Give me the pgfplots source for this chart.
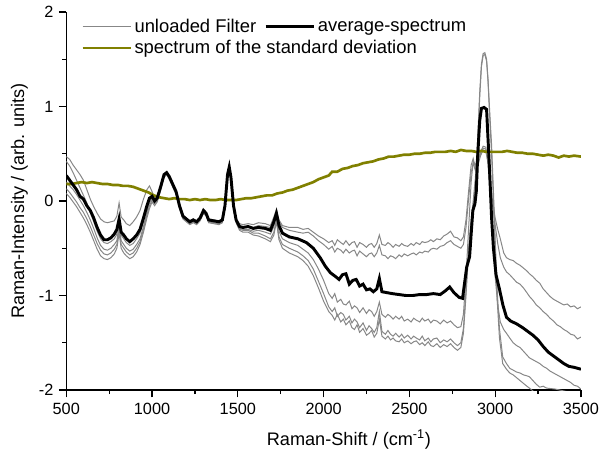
\documentclass[border=0pt]{standalone}
\usepackage{fontspec}
\setmainfont{Liberation Sans}
\usepackage{pgfplots}
\pgfplotsset{compat=1.18}
\definecolor{specgray}{RGB}{135,135,135}
\definecolor{specolive}{RGB}{128,128,0}
\begin{document}
\fontsize{12}{14}\selectfont
\begin{tikzpicture}[font=\fontsize{12}{14}\selectfont]
\begin{axis}[
  scale only axis, width=386pt, height=283.5pt,
  xmin=500, xmax=3500, ymin=-2, ymax=2,
  axis x line*=bottom, axis y line*=left,
  tick align=outside,
  xtick={500,1000,...,3500}, ytick={-2,-1,0,1,2},
  minor x tick num=1, minor y tick num=1,
  major tick length=5.5pt, minor tick length=3pt,
  axis line style={line width=0.9pt},
  every tick/.style={black, line width=0.9pt},
  /pgf/number format/assume math mode=true,
  /pgf/number format/1000 sep={},
  every tick label/.append style={font=\fontsize{12.2}{14}\selectfont},
  every axis label/.append style={font=\fontsize{13.6}{15}\selectfont},
  xlabel={Raman-Shift / (cm\textsuperscript{-1})},
  ylabel={Raman-Intensity / (arb. units)},
  xlabel style={yshift=-3pt, xshift=19pt},
  legend columns=2,
  legend cell align=left,
  legend image code/.code={\draw[#1] (0pt,0pt) -- (36pt,0pt);},
  legend style={at={(rel axis cs:0,1)}, anchor=north west, xshift=8pt, yshift=-1pt,
    draw=none, fill=none, font=\fontsize{13.8}{16}\selectfont,
    row sep=0pt, /tikz/every even column/.append style={column sep=4pt}},
]
% --- unloaded filters (grey) ---
\addplot[specgray, line width=0.75pt, forget plot] table {
500 0.47
520 0.44
540 0.38
560 0.33
580 0.28
600 0.22
620 0.12
640 0.02
660 -0.06
680 -0.13
700 -0.19
720 -0.22
740 -0.23
760 -0.22
780 -0.21
795 -0.16
808 -0.02
820 -0.17
835 -0.20
850 -0.24
870 -0.26
890 -0.22
910 -0.17
930 -0.10
950 0.02
970 0.12
985 0.16
1000 0.10
1015 0.03
1030 0.06
1050 0.16
1070 0.28
1085 0.31
1100 0.27
1120 0.19
1140 0.11
1160 -0.03
1180 -0.15
1200 -0.18
1220 -0.21
1240 -0.19
1260 -0.21
1280 -0.17
1300 -0.09
1315 -0.12
1330 -0.19
1360 -0.20
1390 -0.21
1410 -0.19
1425 -0.04
1440 0.27
1450 0.35
1460 0.24
1475 -0.04
1490 -0.19
1510 -0.24
1530 -0.25
1560 -0.24
1590 -0.25
1620 -0.23
1660 -0.24
1690 -0.26
1710 -0.17
1725 -0.09
1740 -0.20
1760 -0.26
1800 -0.28
1850 -0.28
1880 -0.30
1910 -0.29
1940 -0.33
1970 -0.37
2000 -0.40
2030 -0.44
2050 -0.42
2065 -0.47
2080 -0.41
2100 -0.44
2115 -0.46
2130 -0.42
2150 -0.47
2165 -0.44
2180 -0.43
2195 -0.49
2210 -0.44
2230 -0.46
2250 -0.49
2265 -0.46
2280 -0.45
2295 -0.49
2310 -0.45
2325 -0.36
2340 -0.46
2360 -0.47
2375 -0.44
2390 -0.46
2405 -0.49
2420 -0.46
2440 -0.48
2455 -0.45
2470 -0.47
2490 -0.48
2510 -0.45
2525 -0.47
2540 -0.44
2560 -0.46
2575 -0.43
2590 -0.44
2610 -0.43
2625 -0.41
2640 -0.43
2660 -0.40
2680 -0.41
2700 -0.37
2720 -0.35
2740 -0.32
2760 -0.38
2780 -0.39
2800 -0.42
2815 -0.38
2830 -0.20
2845 0.10
2860 0.38
2872 0.45
2885 0.35
2900 0.42
2915 0.52
2930 0.58
2945 0.57
2958 0.45
2970 0.25
2985 0.0
3000 -0.18
3015 -0.30
3030 -0.40
3050 -0.55
3066 -0.60
3085 -0.62
3105 -0.63
3125 -0.66
3145 -0.68
3165 -0.71
3185 -0.74
3200 -0.77
3220 -0.80
3240 -0.84
3260 -0.87
3280 -0.93
3300 -0.97
3320 -1.01
3340 -1.04
3360 -1.06
3380 -1.08
3400 -1.10
3420 -1.09
3440 -1.12
3460 -1.11
3480 -1.14
3500 -1.12
};
\addplot[specgray, line width=0.75pt, forget plot] table {
500 0.42
520 0.37
540 0.30
560 0.22
580 0.14
600 0.06
620 -0.02
640 -0.12
660 -0.22
680 -0.32
700 -0.40
720 -0.44
740 -0.45
760 -0.43
780 -0.40
795 -0.35
808 -0.18
820 -0.36
835 -0.40
850 -0.44
870 -0.47
890 -0.45
910 -0.40
930 -0.34
950 -0.22
970 -0.08
985 0.0
1000 0.04
1015 -0.01
1030 0.02
1050 0.14
1070 0.27
1085 0.29
1100 0.25
1120 0.17
1140 0.09
1160 -0.06
1180 -0.17
1200 -0.20
1220 -0.23
1240 -0.21
1260 -0.23
1280 -0.19
1300 -0.11
1315 -0.14
1330 -0.21
1360 -0.22
1390 -0.23
1410 -0.21
1425 -0.06
1440 0.27
1450 0.34
1460 0.24
1475 -0.06
1490 -0.21
1510 -0.27
1530 -0.28
1560 -0.27
1590 -0.28
1620 -0.26
1660 -0.27
1690 -0.28
1710 -0.19
1725 -0.10
1740 -0.22
1760 -0.28
1800 -0.31
1850 -0.33
1880 -0.34
1910 -0.33
1940 -0.37
1970 -0.42
2000 -0.46
2030 -0.51
2050 -0.48
2065 -0.54
2080 -0.50
2100 -0.52
2115 -0.55
2130 -0.51
2150 -0.55
2165 -0.53
2180 -0.52
2195 -0.58
2210 -0.53
2230 -0.56
2250 -0.59
2265 -0.56
2280 -0.55
2295 -0.59
2310 -0.55
2325 -0.47
2340 -0.57
2360 -0.58
2375 -0.61
2390 -0.58
2405 -0.59
2420 -0.61
2440 -0.57
2455 -0.59
2470 -0.56
2490 -0.58
2510 -0.56
2525 -0.55
2540 -0.57
2560 -0.54
2575 -0.55
2590 -0.53
2610 -0.54
2625 -0.51
2640 -0.50
2660 -0.51
2680 -0.48
2700 -0.47
2720 -0.44
2740 -0.42
2760 -0.46
2780 -0.48
2800 -0.50
2815 -0.46
2830 -0.28
2845 0.02
2860 0.30
2872 0.40
2885 0.32
2900 0.38
2915 0.48
2930 0.54
2945 0.53
2958 0.42
2970 0.20
2985 -0.05
3000 -0.25
3015 -0.45
3030 -0.60
3050 -0.70
3066 -0.75
3085 -0.78
3105 -0.82
3125 -0.86
3145 -0.88
3165 -0.92
3185 -0.97
3200 -1.01
3220 -1.05
3240 -1.10
3260 -1.13
3280 -1.17
3300 -1.20
3320 -1.24
3340 -1.27
3360 -1.31
3380 -1.33
3400 -1.36
3420 -1.38
3440 -1.41
3460 -1.42
3480 -1.46
3500 -1.44
};
\addplot[specgray, line width=0.75pt, forget plot] table {
500 0.20
520 0.16
540 0.12
560 0.07
580 0.01
600 -0.05
620 -0.12
640 -0.20
660 -0.29
680 -0.39
700 -0.47
720 -0.51
740 -0.52
760 -0.50
780 -0.46
795 -0.42
808 -0.25
820 -0.42
835 -0.46
850 -0.50
870 -0.53
890 -0.51
910 -0.46
930 -0.40
950 -0.27
970 -0.12
985 -0.02
1000 0.03
1015 -0.02
1030 0.01
1050 0.13
1070 0.27
1085 0.29
1100 0.24
1120 0.16
1140 0.08
1160 -0.07
1180 -0.18
1200 -0.21
1220 -0.24
1240 -0.22
1260 -0.24
1280 -0.20
1300 -0.12
1315 -0.15
1330 -0.22
1360 -0.23
1390 -0.24
1410 -0.22
1425 -0.07
1440 0.26
1450 0.34
1460 0.23
1475 -0.07
1490 -0.22
1510 -0.29
1530 -0.30
1560 -0.30
1590 -0.32
1620 -0.31
1660 -0.33
1690 -0.35
1710 -0.27
1725 -0.16
1740 -0.32
1760 -0.40
1800 -0.44
1850 -0.47
1880 -0.51
1910 -0.55
1940 -0.62
1970 -0.72
2000 -0.84
2030 -0.98
2050 -1.03
2065 -0.98
2080 -1.07
2100 -1.04
2115 -1.09
2130 -1.10
2150 -1.06
2165 -1.14
2180 -1.11
2195 -1.13
2210 -1.18
2230 -1.13
2250 -1.19
2265 -1.15
2280 -1.17
2295 -1.22
2310 -1.17
2325 -1.07
2340 -1.20
2360 -1.23
2375 -1.20
2390 -1.22
2405 -1.25
2420 -1.22
2440 -1.25
2455 -1.22
2470 -1.27
2490 -1.25
2510 -1.28
2525 -1.24
2540 -1.26
2560 -1.28
2575 -1.24
2590 -1.27
2610 -1.25
2625 -1.29
2640 -1.26
2660 -1.27
2680 -1.30
2700 -1.26
2720 -1.29
2740 -1.27
2760 -1.31
2780 -1.34
2800 -1.33
2815 -1.20
2830 -0.80
2845 -0.30
2860 0.20
2872 0.42
2885 0.38
2900 0.44
2915 0.50
2930 0.56
2945 0.55
2958 0.40
2970 0.10
2985 -0.35
3000 -0.80
3015 -1.10
3030 -1.28
3050 -1.36
3066 -1.40
3085 -1.45
3105 -1.50
3125 -1.53
3145 -1.55
3165 -1.59
3185 -1.63
3200 -1.66
3220 -1.68
3240 -1.70
3260 -1.72
3280 -1.75
3300 -1.77
3320 -1.80
3340 -1.82
3360 -1.84
3380 -1.86
3400 -1.88
3420 -1.90
3440 -1.92
3460 -1.95
3480 -1.96
3500 -1.99
};
\addplot[specgray, line width=0.75pt, forget plot] table {
500 0.13
520 0.09
540 0.04
560 -0.01
580 -0.07
600 -0.12
620 -0.19
640 -0.27
660 -0.36
680 -0.45
700 -0.52
720 -0.56
740 -0.57
760 -0.55
780 -0.51
795 -0.46
808 -0.30
820 -0.46
835 -0.50
850 -0.54
870 -0.57
890 -0.55
910 -0.50
930 -0.43
950 -0.30
970 -0.15
985 -0.05
1000 0.01
1015 -0.03
1030 0.0
1050 0.12
1070 0.26
1085 0.28
1100 0.24
1120 0.16
1140 0.08
1160 -0.07
1180 -0.18
1200 -0.21
1220 -0.24
1240 -0.22
1260 -0.24
1280 -0.20
1300 -0.12
1315 -0.15
1330 -0.22
1360 -0.23
1390 -0.24
1410 -0.22
1425 -0.07
1440 0.26
1450 0.34
1460 0.23
1475 -0.07
1490 -0.22
1510 -0.30
1530 -0.31
1560 -0.31
1590 -0.34
1620 -0.34
1660 -0.37
1690 -0.40
1710 -0.33
1725 -0.20
1740 -0.38
1760 -0.46
1800 -0.50
1850 -0.54
1880 -0.58
1910 -0.63
1940 -0.72
1970 -0.85
2000 -0.98
2030 -1.12
2050 -1.17
2065 -1.13
2080 -1.22
2100 -1.18
2115 -1.20
2130 -1.26
2150 -1.22
2165 -1.29
2180 -1.25
2195 -1.28
2210 -1.34
2230 -1.29
2250 -1.37
2265 -1.32
2280 -1.35
2295 -1.39
2310 -1.34
2325 -1.17
2340 -1.38
2360 -1.41
2375 -1.37
2390 -1.41
2405 -1.43
2420 -1.40
2440 -1.44
2455 -1.41
2470 -1.45
2490 -1.42
2510 -1.46
2525 -1.43
2540 -1.45
2560 -1.47
2575 -1.43
2590 -1.48
2610 -1.45
2625 -1.49
2640 -1.46
2660 -1.45
2680 -1.50
2700 -1.47
2720 -1.49
2740 -1.46
2760 -1.50
2780 -1.53
2800 -1.50
2815 -1.35
2830 -0.95
2845 -0.50
2860 -0.20
2872 0.00
2885 0.25
2898 0.65
2910 1.15
2920 1.45
2930 1.56
2940 1.57
2950 1.50
2958 1.30
2968 0.95
2979 0.60
2990 0.10
3000 -0.40
3012 -0.95
3025 -1.35
3044 -1.65
3066 -1.72
3085 -1.77
3105 -1.79
3125 -1.81
3145 -1.82
3165 -1.84
3185 -1.85
3200 -1.86
3220 -1.90
3240 -1.94
3260 -1.97
3280 -1.96
3300 -1.98
3350 -1.99
3400 -2.01
3450 -2.03
3500 -2.06
};
\addplot[specgray, line width=0.75pt, forget plot] table {
500 0.08
520 0.04
540 -0.01
560 -0.06
580 -0.12
600 -0.18
620 -0.25
640 -0.33
660 -0.42
680 -0.51
700 -0.58
720 -0.61
740 -0.62
760 -0.60
780 -0.56
795 -0.50
808 -0.34
820 -0.50
835 -0.55
850 -0.58
870 -0.61
890 -0.59
910 -0.54
930 -0.46
950 -0.33
970 -0.18
985 -0.08
1000 -0.01
1015 -0.05
1030 -0.01
1050 0.11
1070 0.25
1085 0.28
1100 0.23
1120 0.15
1140 0.07
1160 -0.08
1180 -0.19
1200 -0.22
1220 -0.25
1240 -0.23
1260 -0.25
1280 -0.21
1300 -0.13
1315 -0.16
1330 -0.23
1360 -0.24
1390 -0.25
1410 -0.23
1425 -0.08
1440 0.25
1450 0.33
1460 0.22
1475 -0.08
1490 -0.23
1510 -0.31
1530 -0.33
1560 -0.33
1590 -0.36
1620 -0.37
1660 -0.40
1690 -0.43
1710 -0.36
1725 -0.22
1740 -0.41
1760 -0.50
1800 -0.55
1850 -0.59
1880 -0.63
1910 -0.69
1940 -0.79
1970 -0.92
2000 -1.06
2030 -1.17
2050 -1.21
2065 -1.26
2080 -1.20
2100 -1.28
2115 -1.25
2130 -1.31
2150 -1.27
2165 -1.34
2180 -1.36
2195 -1.31
2210 -1.39
2230 -1.35
2250 -1.42
2265 -1.40
2280 -1.37
2295 -1.44
2310 -1.40
2325 -1.25
2340 -1.43
2360 -1.46
2375 -1.43
2390 -1.47
2405 -1.45
2420 -1.48
2440 -1.49
2455 -1.46
2470 -1.50
2490 -1.48
2510 -1.51
2525 -1.49
2540 -1.48
2560 -1.52
2575 -1.50
2590 -1.53
2610 -1.49
2625 -1.53
2640 -1.54
2660 -1.51
2680 -1.55
2700 -1.52
2720 -1.54
2740 -1.51
2760 -1.55
2780 -1.58
2800 -1.55
2815 -1.40
2830 -1.00
2845 -0.55
2860 -0.25
2872 -0.05
2885 0.20
2898 0.60
2910 1.10
2920 1.42
2930 1.54
2940 1.55
2950 1.48
2958 1.28
2968 0.90
2979 0.50
2990 0.00
3000 -0.50
3012 -1.05
3025 -1.45
3044 -1.72
3066 -1.78
3085 -1.82
3105 -1.84
3125 -1.87
3145 -1.90
3165 -1.93
3185 -1.96
3200 -1.98
3220 -2.01
3260 -2.06
3300 -2.10
3400 -2.18
3500 -2.25
};
% --- standard deviation spectrum (olive) ---
\addplot[specolive, line width=2pt, forget plot] table {
500 0.18
530 0.18
560 0.19
590 0.20
620 0.19
650 0.20
680 0.19
710 0.18
740 0.18
770 0.17
800 0.17
830 0.16
860 0.16
890 0.15
920 0.13
950 0.11
980 0.09
1010 0.06
1040 0.04
1070 0.03
1100 0.02
1130 0.03
1160 0.02
1190 0.02
1220 0.01
1250 0.02
1280 0.01
1310 0.02
1340 0.01
1370 0.01
1400 0.02
1430 0.01
1460 0.01
1490 0.01
1520 0.02
1550 0.03
1580 0.03
1610 0.04
1640 0.05
1670 0.06
1700 0.06
1730 0.08
1760 0.09
1790 0.11
1820 0.12
1850 0.14
1880 0.16
1910 0.18
1940 0.20
1970 0.23
2000 0.25
2030 0.27
2050 0.31
2080 0.31
2110 0.34
2140 0.35
2170 0.37
2200 0.38
2230 0.40
2260 0.41
2290 0.42
2320 0.44
2350 0.45
2380 0.47
2410 0.47
2440 0.48
2470 0.49
2500 0.49
2530 0.50
2560 0.50
2590 0.51
2620 0.51
2650 0.52
2680 0.52
2710 0.52
2740 0.53
2770 0.52
2800 0.54
2830 0.53
2860 0.53
2890 0.52
2920 0.53
2950 0.52
2980 0.52
3010 0.52
3040 0.52
3070 0.53
3100 0.52
3130 0.51
3160 0.51
3190 0.50
3220 0.50
3250 0.49
3280 0.48
3310 0.49
3340 0.48
3370 0.46
3400 0.48
3430 0.47
3460 0.48
3500 0.47
};
% --- average spectrum (black) ---
\addplot[black, line width=2.2pt, forget plot] table {
500 0.27
520 0.22
540 0.17
560 0.12
580 0.05
600 0.02
620 -0.05
640 -0.10
660 -0.18
680 -0.28
700 -0.36
720 -0.41
740 -0.41
760 -0.39
780 -0.35
795 -0.30
808 -0.19
820 -0.33
835 -0.36
850 -0.40
870 -0.43
890 -0.40
910 -0.36
930 -0.30
950 -0.18
970 -0.05
985 0.03
1000 0.05
1015 0.0
1030 0.03
1050 0.15
1070 0.28
1085 0.30
1100 0.26
1120 0.18
1140 0.10
1160 -0.05
1180 -0.16
1200 -0.19
1220 -0.22
1240 -0.20
1260 -0.22
1280 -0.18
1300 -0.10
1315 -0.13
1330 -0.20
1360 -0.21
1390 -0.22
1410 -0.20
1425 -0.05
1440 0.28
1450 0.36
1460 0.25
1475 -0.05
1490 -0.20
1510 -0.27
1530 -0.28
1560 -0.27
1590 -0.29
1620 -0.28
1660 -0.29
1690 -0.31
1710 -0.22
1725 -0.13
1740 -0.26
1760 -0.34
1800 -0.38
1850 -0.40
1900 -0.44
1940 -0.50
1980 -0.60
2010 -0.69
2040 -0.76
2070 -0.80
2090 -0.83
2110 -0.78
2130 -0.77
2150 -0.88
2170 -0.84
2190 -0.83
2210 -0.90
2230 -0.88
2250 -0.94
2270 -0.93
2290 -0.96
2310 -0.93
2325 -0.82
2340 -0.96
2370 -0.97
2400 -0.98
2440 -0.99
2480 -1.00
2520 -1.00
2560 -0.99
2600 -0.99
2640 -0.98
2680 -0.99
2710 -0.95
2735 -0.91
2760 -0.97
2790 -1.02
2810 -1.03
2834 -0.70
2851 -0.59
2862 -0.30
2870 -0.10
2882 -0.03
2890 0.10
2898 0.47
2910 0.85
2920 0.98
2935 0.99
2950 0.97
2960 0.60
2968 0.30
2979 -0.17
2990 -0.50
3005 -0.78
3026 -0.94
3045 -1.10
3066 -1.23
3090 -1.27
3125 -1.30
3160 -1.34
3190 -1.38
3220 -1.42
3250 -1.47
3280 -1.54
3310 -1.60
3340 -1.64
3370 -1.68
3400 -1.72
3430 -1.75
3460 -1.76
3500 -1.78
};
\addlegendimage{specgray, line width=0.75pt}
\addlegendentry{unloaded Filter}
\addlegendimage{black, line width=2.2pt}
\addlegendentry{average-spectrum}
\addlegendimage{specolive, line width=2pt}
\addlegendentry{\makebox[0pt][l]{spectrum of the standard deviation}}
\end{axis}
\pgfresetboundingbox
\path (-49.7pt,-48pt) rectangle (400.3pt,292.5pt);
\end{tikzpicture}
\end{document}
